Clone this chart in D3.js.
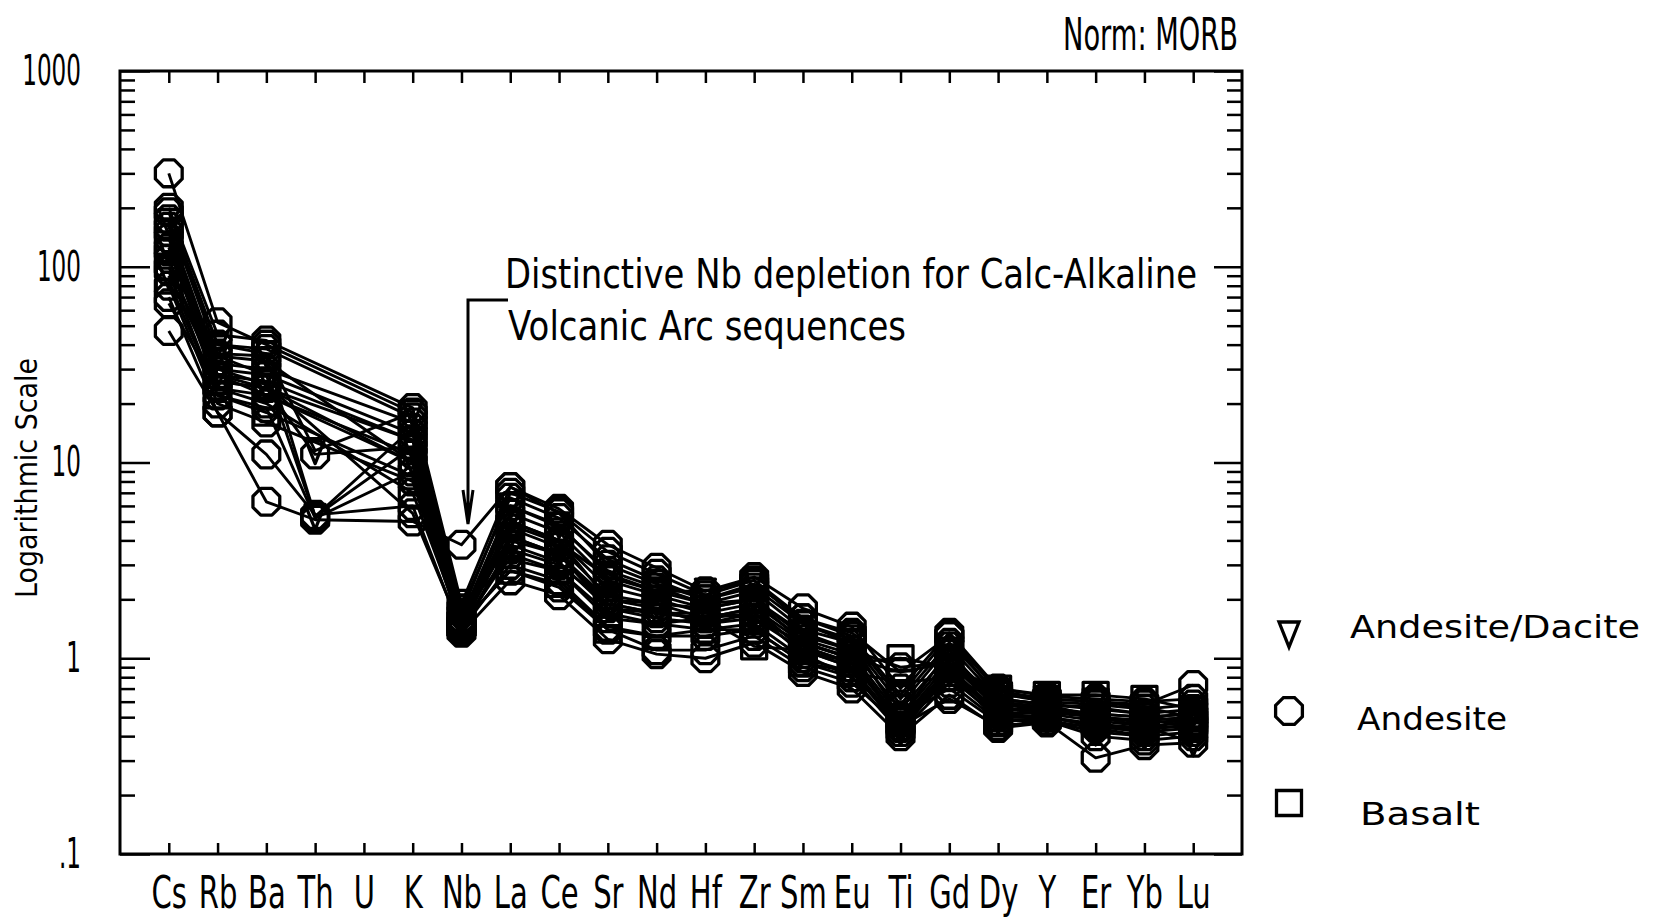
<!DOCTYPE html>
<html>
<head>
<meta charset="utf-8">
<script src="https://cdn.jsdelivr.net/npm/d3@7"></script>
<style>
body { margin: 0; background: #fff; }
svg { display: block; font-family: "DejaVu Sans", sans-serif; }
</style>
</head>
<body>
<script>
// element order on the spider diagram
var elements = ['Cs','Rb','Ba','Th','U','K','Nb','La','Ce','Sr','Nd','Hf','Zr','Sm','Eu','Ti','Gd','Dy','Y','Er','Yb','Lu'];

// MORB-normalised values, one row per sample (null = not analysed)
var andesite = [
	[300, 52, 40, null, null, 18, 1.7, 7.0, 5.6, 3.5, 2.7, 2.1, 2.5, 1.6, 1.3, 0.65, 1.3, 0.68, 0.62, 0.6, 0.58, 0.73],
	[200, 45, 42, null, null, 19, 1.9, 7.5, 5.8, 3.8, 2.9, 2.2, 2.6, 1.8, 1.45, 0.7, 1.35, 0.7, 0.64, 0.62, 0.6, 0.62],
	[190, 40, 38, null, null, 17, 1.8, 6.6, 5.2, 3.2, 2.5, 2.0, 2.3, 1.5, 1.25, 0.62, 1.2, 0.66, 0.6, 0.58, 0.55, 0.58],
	[175, 36, 35, 5.3, null, 15, 1.6, 6.0, 4.7, 2.8, 2.3, 1.9, 2.2, 1.4, 1.2, 0.58, 1.15, 0.62, 0.58, 0.55, 0.52, 0.55],
	[160, 32, 30, null, null, 16, 1.55, 5.5, 4.4, 2.5, 2.1, 1.8, 2.0, 1.3, 1.1, 0.55, 1.05, 0.6, 0.56, 0.52, 0.5, 0.52],
	[150, 30, 28, null, null, 14, 1.5, 5.0, 4.0, 2.3, 2.0, 1.7, 1.9, 1.25, 1.05, 0.5, 1.0, 0.58, 0.55, 0.5, 0.48, 0.5],
	[140, 28, 26, null, null, 13, 1.45, 4.6, 3.7, 2.1, 1.9, 1.6, 1.8, 1.2, 1.0, 0.48, 0.95, 0.55, 0.53, 0.5, 0.47, 0.48],
	[125, 26, 24, 11, null, 12, 1.5, 4.2, 3.4, 2.0, 1.8, 1.5, 1.7, 1.15, 0.95, 0.47, 0.9, 0.53, 0.52, 0.48, 0.45, 0.47],
	[110, 24, 22, null, null, 11, 1.4, 3.8, 3.1, 1.8, 1.6, 1.5, 1.6, 1.1, 0.9, 0.45, 0.85, 0.52, 0.5, 0.46, 0.44, 0.45],
	[95, 22, 19, 5.2, null, 9, 1.45, 3.4, 2.8, 1.6, 1.5, 1.4, 1.5, 1.0, 0.85, 0.44, 0.8, 0.5, 0.5, 0.45, 0.42, 0.44],
	[80, 20, 16, null, null, 8, 1.4, 3.0, 2.5, 1.45, 1.3, 1.3, 1.4, 0.95, 0.8, 0.42, 0.75, 0.48, 0.48, 0.44, 0.4, 0.42],
	[70, 18, 11, 5.4, null, 6, 1.35, 2.5, 2.1, 1.25, 1.05, 1.0, 1.2, 0.85, 0.7, 0.4, 0.65, 0.44, 0.47, 0.31, 0.36, 0.37],
	[47, 18, 6.3, 5.1, null, 5, 3.8, 7.5, 5.5, 3.0, 2.4, 2.0, 2.4, 1.6, 1.35, 0.85, 1.3, 0.62, 0.58, 0.5, 0.48, 0.5],
	[65, 24, 20, null, null, 7, 1.5, 2.8, 2.3, 1.4, 1.1, 1.1, 1.3, 0.9, 0.75, 0.45, 0.62, 0.45, 0.48, 0.4, 0.38, 0.4],
	[120, 35, 33, null, null, 10, 1.6, 4.8, 3.9, 2.6, 2.2, 1.9, 2.0, 1.35, 1.1, 0.9, 0.95, 0.58, 0.55, 0.52, 0.5, 0.52],
	[100, 30, 25, null, null, 5.5, 1.4, 3.6, 3.0, 1.9, 1.7, 1.6, 1.7, 1.05, 0.8, 0.5, 0.7, 0.47, 0.5, 0.46, 0.43, 0.46]
];
var basalt = [
	[100, 28, 22, null, null, 10, 1.8, 3.2, 2.8, 1.7, 1.5, 1.6, 1.15, 1.1, 0.95, 1.0, 0.9, 0.7, 0.65, 0.65, 0.62, 0.55],
	[130, 26, 24, null, null, 13, 1.6, 4.0, 3.4, 1.9, 1.7, 1.7, 1.6, 1.2, 1.0, 0.85, 0.95, 0.65, 0.62, 0.6, 0.56, 0.5],
	[85, 22, 18, null, null, 8.5, 1.5, 2.8, 2.4, 1.4, 1.3, 1.4, 1.4, 0.95, 0.85, 0.75, 0.8, 0.62, 0.58, 0.56, 0.52, 0.45]
];
var andesiteDacite = [
	[170, 40, 36, 11.5, null, 18, 1.6, 6.0, 4.8, 2.7, 2.2, 2.2, 2.5, 1.5, 1.2, 0.5, 1.1, 0.55, 0.55, 0.5, 0.45, 0.37],
	[120, 35, 28, 5.3, null, 12, 1.5, 5.0, 4.0, 2.0, 1.9, 1.8, 2.0, 1.2, 1.0, 0.45, 0.9, 0.5, 0.5, 0.45, 0.42, 0.52],
	[90, 28, 24, null, null, 10, 1.45, 4.2, 3.4, 1.8, 1.7, 1.6, 1.8, 1.1, 0.9, 0.42, 0.85, 0.48, 0.48, 0.42, 0.4, 0.55]
];

var yMajor = [0.1, 1, 10, 100, 1000];
var yMinor = [];
[0.1, 1, 10, 100].forEach(function (d) {
	[2, 3, 4, 5, 6, 7, 8, 9].forEach(function (k) { yMinor.push(+(k * d).toPrecision(2)); });
});
var legendNames = ['Andesite/Dacite', 'Andesite', 'Basalt'];

var width = 1658, height = 921;
var frameL = 120, frameR = 1242, frameT = 71, frameB = 854;

var svg = d3.select('body').append('svg')
	.attr('width', width).attr('height', height);

var x = d3.scalePoint().domain(elements).range([frameL, frameR]).padding(1);
var y = d3.scaleLog().domain([0.1, 1000]).range([frameB, frameT]);

// marker shapes
function octagon(r) {
	var p = d3.path();
	for (var i = 0; i < 8; i++) {
		var a = Math.PI / 8 + i * Math.PI / 4;
		if (i == 0) p.moveTo(r * Math.cos(a), r * Math.sin(a));
		else p.lineTo(r * Math.cos(a), r * Math.sin(a));
	}
	p.closePath();
	return p.toString();
}
function square(s) {
	return 'M' + (-s / 2) + ',' + (-s / 2) + 'h' + s + 'v' + s + 'h' + (-s) + 'Z';
}
function triangle() {
	return 'M-10,-12L10,-12L0,13Z';
}
var shapes = { 'Andesite/Dacite': triangle(), 'Andesite': octagon(14.5), 'Basalt': square(25) };

// axes
function ticks(g) {
	g.select('.domain').remove();
	g.selectAll('line').attr('stroke', '#000').attr('stroke-width', 2.5);
}
function squeeze(g, sx) {
	g.selectAll('text').each(function () {
		var t = d3.select(this);
		t.attr('x', (+t.attr('x') || 0) / sx).attr('transform', 'scale(' + sx + ',1)');
	});
}

var gxb = svg.append('g').attr('transform', 'translate(0,' + frameB + ')')
	.call(d3.axisBottom(x).tickSize(-11).tickSizeOuter(0).tickPadding(0));
ticks(gxb);
gxb.attr('font-size', 44).attr('font-family', '"DejaVu Sans", sans-serif');
gxb.selectAll('text').attr('y', 54).attr('dy', 0).attr('fill', '#000');
squeeze(gxb, 0.66);

var gxt = svg.append('g').attr('transform', 'translate(0,' + frameT + ')')
	.call(d3.axisTop(x).tickSize(-12).tickSizeOuter(0).tickFormat(''));
ticks(gxt);

var gyl = svg.append('g').attr('transform', 'translate(' + frameL + ',0)')
	.call(d3.axisLeft(y).tickValues(yMajor).tickSize(-30).tickSizeOuter(0).tickPadding(39)
		.tickFormat(function (d) { return d < 1 ? '.1' : d3.format('d')(d); }));
ticks(gyl);
gyl.attr('font-size', 42).attr('font-family', '"DejaVu Sans", sans-serif');
gyl.selectAll('text').attr('fill', '#000');
squeeze(gyl, 0.55);

var gylm = svg.append('g').attr('transform', 'translate(' + frameL + ',0)')
	.call(d3.axisLeft(y).tickValues(yMinor).tickSize(-15).tickSizeOuter(0).tickFormat(''));
ticks(gylm);

var gyr = svg.append('g').attr('transform', 'translate(' + frameR + ',0)')
	.call(d3.axisRight(y).tickValues(yMajor).tickSize(-28).tickSizeOuter(0).tickFormat(''));
ticks(gyr);
var gyrm = svg.append('g').attr('transform', 'translate(' + frameR + ',0)')
	.call(d3.axisRight(y).tickValues(yMinor).tickSize(-15).tickSizeOuter(0).tickFormat(''));
ticks(gyrm);

svg.append('rect')
	.attr('x', frameL).attr('y', frameT)
	.attr('width', frameR - frameL).attr('height', frameB - frameT)
	.attr('fill', 'none').attr('stroke', '#000').attr('stroke-width', 3);

// samples
var line = d3.line()
	.x(function (d) { return x(d.el); })
	.y(function (d) { return y(d.v); });

function points(row) {
	return row.map(function (v, i) { return { el: elements[i], v: v }; })
		.filter(function (d) { return d.v != null; });
}

var groups = [
	{ name: 'Andesite', rows: andesite },
	{ name: 'Basalt', rows: basalt },
	{ name: 'Andesite/Dacite', rows: andesiteDacite }
];

var plot = svg.append('g');
groups.forEach(function (grp) {
	grp.rows.forEach(function (row) {
		var pts = points(row);
		plot.append('path')
			.attr('d', line(pts))
			.attr('fill', 'none')
			.attr('stroke', '#000')
			.attr('stroke-width', 2.9)
			.attr('stroke-linejoin', 'round');
		plot.selectAll(null).data(pts).enter().append('path')
			.attr('transform', function (d) { return 'translate(' + x(d.el) + ',' + y(d.v) + ')'; })
			.attr('d', shapes[grp.name])
			.attr('fill', 'none')
			.attr('stroke', '#000')
			.attr('stroke-width', 3.3)
			.attr('stroke-linejoin', 'round');
	});
});

// titles
svg.append('text')
	.attr('transform', 'translate(37,478) rotate(-90)')
	.attr('text-anchor', 'middle')
	.attr('font-size', 30)
	.attr('textLength', 240).attr('lengthAdjust', 'spacingAndGlyphs')
	.text('Logarithmic Scale');

svg.append('text')
	.attr('x', 1063).attr('y', 50)
	.attr('font-size', 45)
	.attr('textLength', 175).attr('lengthAdjust', 'spacingAndGlyphs')
	.text('Norm: MORB');

// annotation
svg.append('text')
	.attr('x', 505).attr('y', 288)
	.attr('font-size', 41)
	.attr('textLength', 692).attr('lengthAdjust', 'spacingAndGlyphs')
	.text('Distinctive Nb depletion for Calc-Alkaline');
svg.append('text')
	.attr('x', 508).attr('y', 340)
	.attr('font-size', 41)
	.attr('textLength', 398).attr('lengthAdjust', 'spacingAndGlyphs')
	.text('Volcanic Arc sequences');
svg.append('path')
	.attr('d', 'M508,300H468V522 M463,490L468,524L473,490')
	.attr('fill', 'none').attr('stroke', '#000').attr('stroke-width', 3);

// legend
var legendY = [634, 711, 803];
var legendText = [[1350, 638, 290], [1357, 730, 150], [1360, 825, 120]];
var lg = svg.append('g').selectAll('g').data(legendNames).enter().append('g');
lg.append('path')
	.attr('transform', function (d, i) { return 'translate(1289,' + legendY[i] + ')'; })
	.attr('d', function (d) { return shapes[d]; })
	.attr('fill', 'none').attr('stroke', '#000').attr('stroke-width', 3.3);
lg.append('text')
	.attr('x', function (d, i) { return legendText[i][0]; })
	.attr('y', function (d, i) { return legendText[i][1]; })
	.attr('font-size', 32)
	.attr('textLength', function (d, i) { return legendText[i][2]; })
	.attr('lengthAdjust', 'spacingAndGlyphs')
	.text(function (d) { return d; });
</script>
</body>
</html>
